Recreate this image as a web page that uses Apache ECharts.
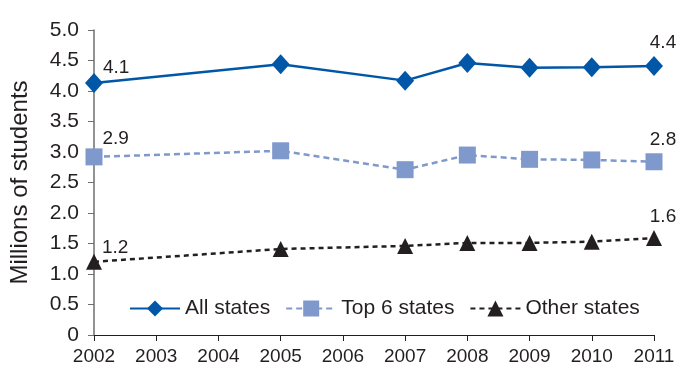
<!DOCTYPE html>
<html>
<head>
<meta charset="utf-8">
<script src="https://cdn.jsdelivr.net/npm/echarts@6/dist/echarts.min.js"></script>
<style>
  html, body { margin: 0; padding: 0; background: #fff; }
  #chart { width: 680px; height: 370px; }
</style>
</head>
<body>
<div id="chart"></div>
<script>
const years = ["2002", "2003", "2004", "2005", "2006", "2007", "2008", "2009", "2010", "2011"];
// no survey in 2003, 2004, 2006
const allStates = [4.13, null, null, 4.44, null, 4.17, 4.46, 4.38, 4.39, 4.41];
const top6States = [2.92, null, null, 3.02, null, 2.71, 2.95, 2.88, 2.87, 2.84];
const otherStates = [1.20, null, null, 1.41, null, 1.46, 1.51, 1.51, 1.53, 1.59];

const font = "'Liberation Sans', Arial, sans-serif";
const ink = "#231f20";

// first and last point carry a value label
function withEndLabels(values, firstOffset, lastOffset) {
  const last = values.length - 1;
  return values.map((v, i) => {
    if (i === 0) {
      return { value: v, label: { show: true, position: "right", distance: 0, offset: firstOffset } };
    }
    if (i === last) {
      return { value: v, label: { show: true, position: "top", distance: 4, offset: lastOffset } };
    }
    return v;
  });
}

function lineSeries(name, values, color, symbol, size, dash, firstOffset, lastOffset) {
  return {
    name,
    type: "line",
    data: withEndLabels(values, firstOffset, lastOffset),
    connectNulls: true,
    symbol,
    symbolSize: size,
    lineStyle: { color, width: 2.5, type: dash },
    itemStyle: { color },
    label: {
      show: false,
      color: ink,
      fontFamily: font,
      fontSize: 19,
      formatter: (p) => p.value.toFixed(1)
    },
    emphasis: { disabled: true },
    animation: false
  };
}

const chart = echarts.init(document.getElementById("chart"), null, { renderer: "canvas" });
chart.setOption({
  backgroundColor: "#fff",
  grid: { left: 94, right: 26, top: 30, bottom: 35 },
  legend: {
    left: 124,
    top: 293,
    itemWidth: 50,
    itemHeight: 20,
    itemGap: 15,
    textStyle: { fontFamily: font, fontSize: 21, color: ink },
    data: ["All states", "Top 6 states", "Other states"]
  },
  xAxis: {
    type: "category",
    data: years,
    boundaryGap: false,
    axisLine: { lineStyle: { color: ink, width: 1.2 } },
    axisTick: { show: true, length: 6, inside: false, lineStyle: { color: ink } },
    axisLabel: { color: ink, fontFamily: font, fontSize: 19, margin: 12 },
    splitLine: { show: false }
  },
  yAxis: {
    type: "value",
    min: 0,
    max: 5,
    interval: 0.5,
    name: "Millions of students",
    nameLocation: "middle",
    nameRotate: 90,
    nameGap: 62,
    nameTextStyle: { color: ink, fontFamily: font, fontSize: 24 },
    axisLine: { show: true, lineStyle: { color: "#6d6e71", width: 1.5 } },
    axisTick: { show: true, length: 6, lineStyle: { color: "#6d6e71" } },
    axisLabel: {
      color: ink,
      fontFamily: font,
      fontSize: 21,
      margin: 15,
      formatter: (v) => (v === 0 ? "0" : v.toFixed(1))
    },
    splitLine: { show: false }
  },
  series: [
    lineSeries("All states", allStates, "#0057a8", "diamond", [18, 20], "solid", [0, -15], [9, 0]),
    lineSeries("Top 6 states", top6States, "#7f99cc", "rect", 17, [6, 4], [0, -18], [9, 0]),
    lineSeries("Other states", otherStates, ink, "triangle", 16, [5, 4], [0, -14], [9, 0])
  ]
});
</script>
</body>
</html>
